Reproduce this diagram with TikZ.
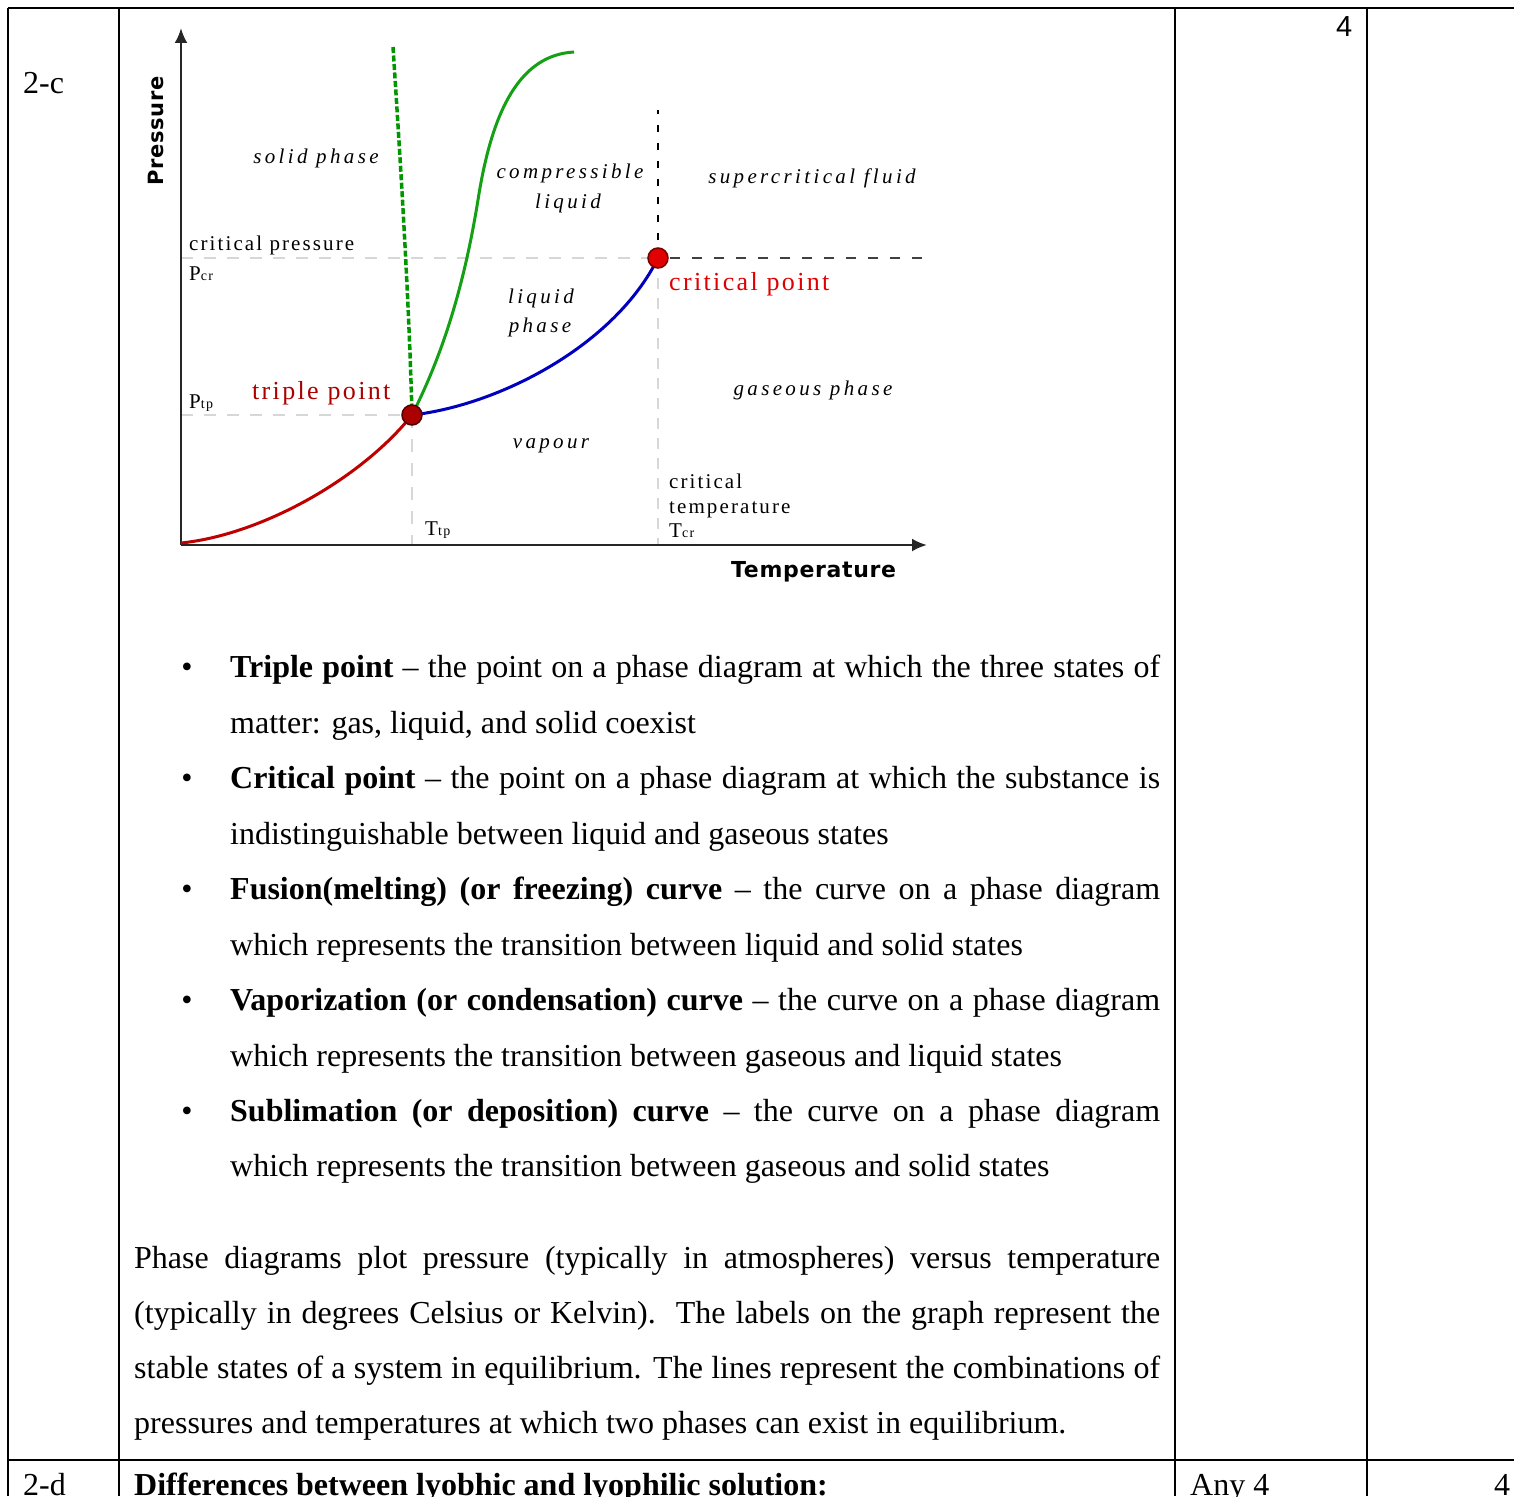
\documentclass[tikz,border=0pt]{standalone}
\usepackage{fontspec}
\setmainfont{Liberation Serif}
\newfontfamily\dfont[LetterSpace=10]{Liberation Serif}
\newfontfamily\dit[LetterSpace=16]{Liberation Serif}
\newfontfamily\dred[LetterSpace=9]{Liberation Serif}
\newfontfamily\axf[LetterSpace=3]{DejaVu Sans}
\newfontfamily\arialf{Liberation Sans}
\usetikzlibrary{arrows.meta}
\definecolor{gsolid}{RGB}{20,160,20}
\definecolor{gdash}{RGB}{0,150,0}
\definecolor{bcurve}{RGB}{0,0,190}
\definecolor{rcurve}{RGB}{190,0,0}
\definecolor{tpred}{RGB}{170,0,0}
\definecolor{cpred}{RGB}{225,0,0}
\definecolor{lgrey}{RGB}{215,215,215}
\tikzset{
  tbl/.style={line width=2pt, black},
  lbl/.style={inner sep=0pt, anchor=base west},
  clbl/.style={inner sep=0pt, anchor=base},
  body/.style={inner sep=0pt, anchor=base west, font=\fontsize{32}{38}\selectfont},
  bul/.style={inner sep=0pt, anchor=base, font=\fontsize{32}{38}\selectfont},
  dl/.style={inner sep=0pt, font=\dfont\fontsize{21}{24}\selectfont},
  itl/.style={inner sep=0pt, anchor=base, font=\dit\itshape\fontsize{21}{24}\selectfont},
  axis/.style={line width=2.5pt, black!85, -{Latex[length=15pt,width=13pt]}},
  lgdash/.style={lgrey, line width=2pt, dash pattern=on 12pt off 11pt},
  blkdash/.style={black, line width=2.5pt, dash pattern=on 7pt off 11pt},
  gdashed/.style={gdash, line width=3.5pt, dash pattern=on 6pt off 2.5pt},
  curve/.style={line width=3pt},
  tpdot/.style={circle, inner sep=0pt, minimum size=20pt, fill=tpred, draw=tpred!50!black, line width=1.5pt},
  cpdot/.style={circle, inner sep=0pt, minimum size=20pt, fill=cpred, draw=tpred!70!black, line width=1.5pt}
}
\begin{document}
\begin{tikzpicture}[x=1pt,y=-1pt]
\useasboundingbox[fill=white] (0,0) rectangle (1514,1496);
% table
\draw[tbl] (8,8) -- (1514,8);
\draw[tbl] (8,8) -- (8,1496);
\draw[tbl] (119,8) -- (119,1496);
\draw[tbl] (1175,8) -- (1175,1496);
\draw[tbl] (1367,8) -- (1367,1496);
\draw[tbl] (8,1460) -- (1514,1460);
\node[body] (qc) at (23,93) {2-c};
\node[inner sep=0pt, anchor=base west, font=\arialf\fontsize{29}{32}\selectfont] (m1) at (1336,37) {4};
% diagram coordinates
\coordinate (O) at (181,545);
\coordinate (ytip) at (181,28);
\coordinate (xtip) at (927,545);
\coordinate (tp) at (412,415);
\coordinate (cp) at (658,258);
\coordinate (pcrL) at (181,258);
\coordinate (pcrR) at (925,258);
\coordinate (ptpL) at (181,415);
\coordinate (ttpB) at (412,545);
\coordinate (tcrB) at (658,545);
\coordinate (tcrT) at (658,110);
\coordinate (fus) at (393,47);
\coordinate (gtop) at (574,52);
% grey dashed guides
\draw[lgdash] (pcrL) -- (cp);
\draw[lgdash] (ptpL) -- (tp);
\draw[lgdash, dash pattern=on 13pt off 11pt] (tp) -- (ttpB);
\draw[lgdash, dash pattern=on 11pt off 9pt] (cp) -- (tcrB);
\draw[black!75, line width=1.5pt, dash pattern=on 10pt off 12pt] ([xshift=12pt]cp) -- (pcrR);
\draw[blkdash] (cp) -- (tcrT);
% axes
\draw[axis] (O) -- (ytip);
\draw[axis] (O) -- (xtip);
% curves
\draw[curve, rcurve] (181,543) .. controls (260,535) and (360,480) .. (tp);
\draw[curve, bcurve] (tp) .. controls (500,405) and (615,345) .. (cp);
\draw[curve, gsolid] (tp) .. controls (445,350) and (465,280) .. (478,200)
   .. controls (492,110) and (520,55) .. (gtop);
\draw[gdashed] (fus) .. controls (401,170) and (409,300) .. (tp);
% points
\node[tpdot] (tpd) at (tp) {};
\node[cpdot] (cpd) at (cp) {};
% labels
\node[inner sep=0pt, anchor=base, rotate=90, font=\axf\bfseries\fontsize{21}{24}\selectfont, text=black] (pl) at (163,131) {Pressure};
\node[inner sep=0pt, anchor=base west, font=\axf\bfseries\fontsize{22}{24}\selectfont] (tl) at (731,577) {Temperature};
\node[itl] (sol) at (316,163) {solid phase};
\node[itl] (comp) at (570,178) {compressible};
\node[itl] (compl) at (568,208) {liquid};
\node[itl] (scf) at (812,183) {supercritical fluid};
\node[itl] (liq) at (541,303) {liquid};
\node[itl] (liqp) at (540,332) {phase};
\node[itl] (gas) at (813,395) {gaseous phase};
\node[itl] (vap) at (551,448) {vapour};
\node[dl, anchor=base west] (cpr) at (189,250) {critical pressure};
\node[dl, anchor=base west] (pcr) at (189,280) {P{\fontsize{14}{16}\selectfont cr}};
\node[dl, anchor=base west] (ptp) at (189,408) {P{\fontsize{14}{16}\selectfont tp}};
\node[dl, anchor=base west] (ttp) at (425,535) {T{\fontsize{14}{16}\selectfont tp}};
\node[dl, anchor=base west] (ct1) at (669,488) {critical};
\node[dl, anchor=base west] (ct2) at (669,513) {temperature};
\node[dl, anchor=base west] (ct3) at (669,537) {T{\fontsize{14}{16}\selectfont cr}};
\node[inner sep=0pt, anchor=base west, text=tpred, font=\dred\fontsize{26}{28}\selectfont] (tpl) at (252,399) {triple point};
\node[inner sep=0pt, anchor=base west, text=cpred, font=\dred\fontsize{26}{28}\selectfont] (cpl) at (669,290) {critical point};
% bullets
\foreach \y/\n in {677/b1,788/b2,899/b3,1010/b4,1121/b5}
  \node[bul] (\n) at (187,\y) {\textbullet};
\node[body] (l1) at (230,677) {\makebox[930pt][s]{\textbf{Triple point} – the point on a phase diagram at which the three states of}};
\node[body] (l2) at (230,733) {matter: gas, liquid, and solid coexist};
\node[body] (l3) at (230,788) {\makebox[930pt][s]{\textbf{Critical point} – the point on a phase diagram at which the substance is}};
\node[body] (l4) at (230,844) {indistinguishable between liquid and gaseous states};
\node[body] (l5) at (230,899) {\makebox[930pt][s]{\textbf{Fusion(melting) (or freezing) curve} – the curve on a phase diagram}};
\node[body] (l6) at (230,955) {which represents the transition between liquid and solid states};
\node[body] (l7) at (230,1010) {\makebox[930pt][s]{\textbf{Vaporization (or condensation) curve} – the curve on a phase diagram}};
\node[body] (l8) at (230,1066) {which represents the transition between gaseous and liquid states};
\node[body] (l9) at (230,1121) {\makebox[930pt][s]{\textbf{Sublimation (or deposition) curve} – the curve on a phase diagram}};
\node[body] (l10) at (230,1176) {which represents the transition between gaseous and solid states};
% paragraph
\node[body] (p1) at (134,1268) {\makebox[1026pt][s]{Phase diagrams plot pressure (typically in atmospheres) versus temperature}};
\node[body] (p2) at (134,1323) {\makebox[1026pt][s]{(typically in degrees Celsius or Kelvin).\ \ The labels on the graph represent the}};
\node[body] (p3) at (134,1378) {\makebox[1026pt][s]{stable states of a system in equilibrium. The lines represent the combinations of}};
\node[body] (p4) at (134,1433) {pressures and temperatures at which two phases can exist in equilibrium.};
% bottom row
\node[body] (qd) at (23,1495) {2-d};
\node[body] (dh) at (134,1495) {\textbf{Differences between lyobhic and lyophilic solution:}};
\node[body] (any) at (1190,1495) {Any 4};
\node[body] (m2) at (1494,1495) {4};
\end{tikzpicture}
\end{document}
